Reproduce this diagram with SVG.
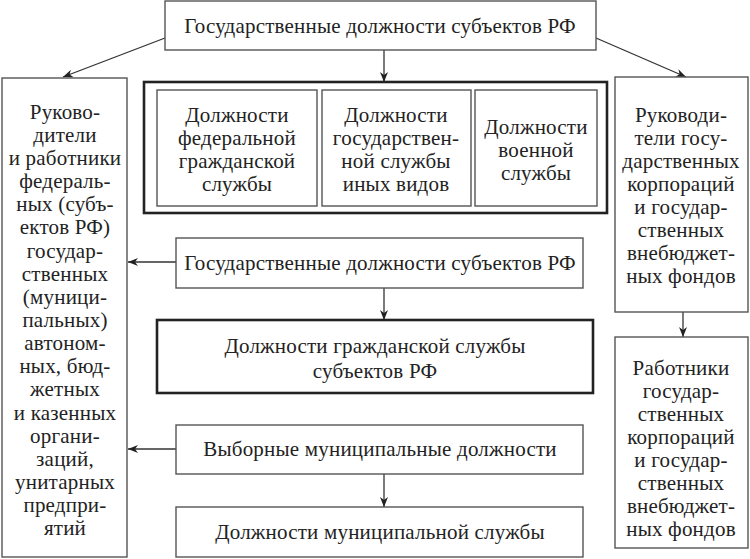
<svg xmlns="http://www.w3.org/2000/svg" width="750" height="559" viewBox="0 0 750 559" font-family="Liberation Serif, serif">
<style>
.b{fill:#fff;stroke:#555;stroke-width:1.4}
.tb{fill:#fff;stroke:#222;stroke-width:2.6}
.t{font-size:21px;letter-spacing:0.2px;fill:#222;text-anchor:middle}
.c{stroke:#333;stroke-width:1.3;fill:none;marker-end:url(#ah)}
</style>
<defs>
<marker id="ah" viewBox="0 0 10 8" refX="10" refY="4" markerWidth="10" markerHeight="8" markerUnits="userSpaceOnUse" orient="auto">
<path d="M0,0 L10,4 L0,8 L3,4 Z" fill="#222"/>
</marker>
</defs>
<rect width="750" height="559" fill="#fff"/>
<g id="connectors">
<line class="c" x1="384" y1="50" x2="384" y2="82"/>
<line class="c" x1="165" y1="38" x2="63" y2="77"/>
<line class="c" x1="596" y1="38" x2="686" y2="77"/>
<line class="c" x1="176" y1="262" x2="128" y2="262"/>
<line class="c" x1="384" y1="288" x2="384" y2="320"/>
<line class="c" x1="176" y1="449" x2="128" y2="449"/>
<line class="c" x1="384" y1="474" x2="384" y2="507"/>
<line class="c" x1="683" y1="312" x2="683" y2="337"/>
</g>
<g id="top">
<rect class="b" x="165" y="1" width="431" height="49"/>
<text class="t" x="380" y="33">Государственные должности субъектов РФ</text>
</g>
<g id="group">
<rect class="tb" x="144" y="82" width="463" height="131"/>
</g>
<g id="fed">
<rect class="b" x="157" y="90" width="160" height="116"/>
<text class="t" x="237" y="122">Должности</text>
<text class="t" x="237" y="145">федеральной</text>
<text class="t" x="237" y="168">гражданской</text>
<text class="t" x="237" y="191">службы</text>
</g>
<g id="other">
<rect class="b" x="322" y="90" width="149" height="116"/>
<text class="t" x="396" y="122">Должности</text>
<text class="t" x="396" y="145">государствен-</text>
<text class="t" x="396" y="168">ной службы</text>
<text class="t" x="396" y="191">иных видов</text>
</g>
<g id="mil">
<rect class="b" x="475" y="90" width="122" height="116"/>
<text class="t" x="536" y="134">Должности</text>
<text class="t" x="536" y="157">военной</text>
<text class="t" x="536" y="180">службы</text>
</g>
<g id="subj">
<rect class="b" x="176" y="238" width="407" height="50"/>
<text class="t" x="380" y="270">Государственные должности субъектов РФ</text>
</g>
<g id="civil">
<rect class="tb" x="157" y="320" width="436" height="73"/>
<text class="t" x="375" y="353">Должности гражданской службы</text>
<text class="t" x="375" y="378">субъектов РФ</text>
</g>
<g id="elect">
<rect class="b" x="176" y="425" width="407" height="49"/>
<text class="t" x="380" y="456">Выборные муниципальные должности</text>
</g>
<g id="mun">
<rect class="b" x="176" y="507" width="407" height="50"/>
<text class="t" x="380" y="539">Должности муниципальной службы</text>
</g>
<g id="left">
<rect class="b" x="2" y="78" width="125" height="479"/>
<text class="t" x="65" y="119">Руково-</text>
<text class="t" x="65" y="142">дители</text>
<text class="t" x="65" y="165">и работники</text>
<text class="t" x="65" y="188">федераль-</text>
<text class="t" x="65" y="211">ных (субъ-</text>
<text class="t" x="65" y="234">ектов РФ)</text>
<text class="t" x="65" y="258">государ-</text>
<text class="t" x="65" y="281">ственных</text>
<text class="t" x="65" y="304">(муници-</text>
<text class="t" x="65" y="327">пальных)</text>
<text class="t" x="65" y="350">автоном-</text>
<text class="t" x="65" y="373">ных, бюд-</text>
<text class="t" x="65" y="396">жетных</text>
<text class="t" x="65" y="420">и казенных</text>
<text class="t" x="65" y="443">органи-</text>
<text class="t" x="65" y="466">заций,</text>
<text class="t" x="65" y="489">унитарных</text>
<text class="t" x="65" y="512">предпри-</text>
<text class="t" x="65" y="535">ятий</text>
</g>
<g id="heads">
<rect class="b" x="615" y="77" width="133" height="235"/>
<text class="t" x="681" y="122">Руководи-</text>
<text class="t" x="681" y="145">тели госу-</text>
<text class="t" x="681" y="168">дарственных</text>
<text class="t" x="681" y="191">корпораций</text>
<text class="t" x="681" y="214">и государ-</text>
<text class="t" x="681" y="237">ственных</text>
<text class="t" x="681" y="260">внебюджет-</text>
<text class="t" x="681" y="283">ных фондов</text>
</g>
<g id="workers">
<rect class="b" x="615" y="337" width="133" height="211"/>
<text class="t" x="681" y="375">Работники</text>
<text class="t" x="681" y="398">государ-</text>
<text class="t" x="681" y="421">ственных</text>
<text class="t" x="681" y="444">корпораций</text>
<text class="t" x="681" y="467">и государ-</text>
<text class="t" x="681" y="490">ственных</text>
<text class="t" x="681" y="513">внебюджет-</text>
<text class="t" x="681" y="536">ных фондов</text>
</g>
</svg>
